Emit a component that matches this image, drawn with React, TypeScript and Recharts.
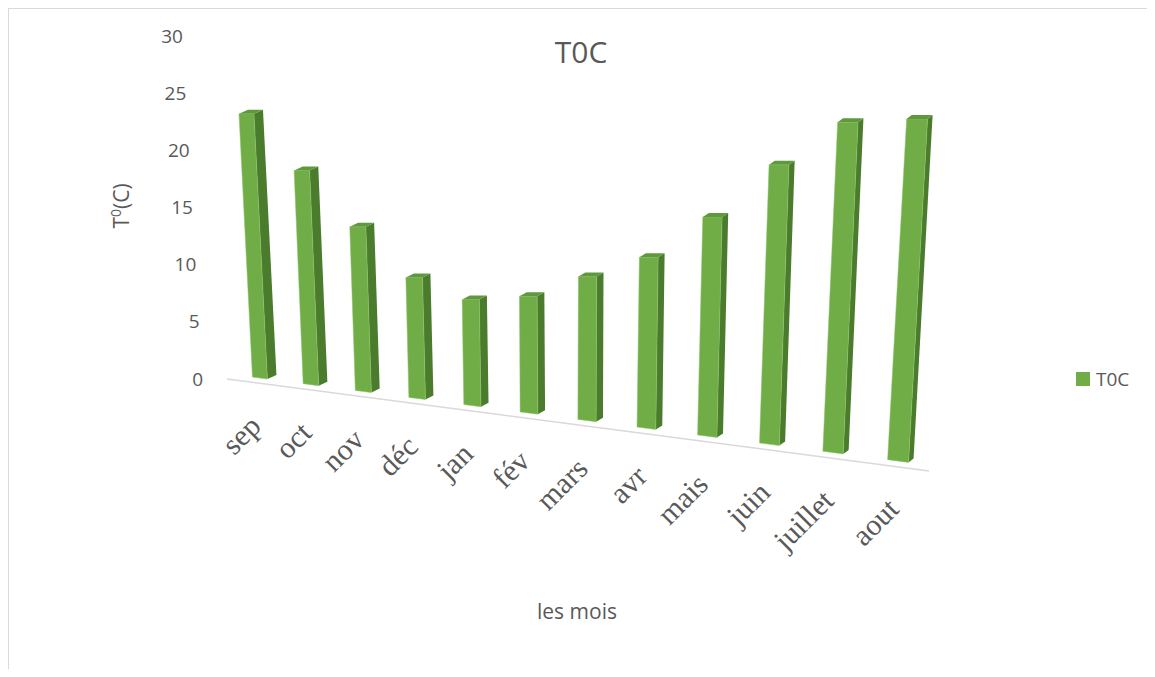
import React from 'react';
import { ComposedChart, Bar, XAxis, YAxis, ReferenceLine, Legend } from 'recharts';

const months = ['sep', 'oct', 'nov', 'déc', 'jan', 'fév', 'mars', 'avr', 'mais', 'juin', 'juillet', 'aout'];
const temperatures = [22.7, 17.9, 13.4, 9.6, 8.2, 8.8, 10.6, 12.3, 15.4, 19.2, 22.2, 22.5];
const yTicks = [0, 5, 10, 15, 20, 25, 30];
const seriesName = 'T0C';

const data = months.map((m, i) => ({ month: m, t: temperatures[i] }));

// flat chart layout; the 3D look is a projection of it
const CHART_W = 1139;
const CHART_H = 661;
const PLOT_TOP = 28;
const PLOT_H = 343;
const PLOT_LEFT = 222.5;
const BAND = 58;
const PLOT_BOTTOM = PLOT_TOP + PLOT_H;
const FIRST_CENTER = PLOT_LEFT + BAND / 2;

const FRONT = '#70AD47';
const SIDE = '#4B7B2D';
const TOP = '#5E9A3B';
const TEXT = '#595959';
const SANS = '"Open Sans", sans-serif';

// perspective: right side is closer, floor slopes down to the right
function project(cx: number) {
  const i = (cx - FIRST_CENTER) / BAND;
  const p = cx - 7.7 * i + 0.7 * i * i;
  const b = PLOT_BOTTOM - 1 + 0.13 * (p - FIRST_CENTER);
  const s = 1.018 + 0.0283 * i;
  return { i, p, b, s };
}

const pts = (arr: number[][]) => arr.map((q) => q.join(',')).join(' ');

const Bar3D = (props: any) => {
  const { x, width, height } = props;
  if (!height) return null;
  const { i, p, b, s } = project(x + width / 2);
  const h = height * s;
  const hw = (width * (1 + 0.036 * i)) / 2;
  const sd = 9 - 0.36 * i;
  const lean = (p - 557) * 0.000167 * h;
  const top = b - h;
  const flb = [p - hw, b - 0.13 * hw];
  const frb = [p + hw, b + 0.13 * hw];
  const flt = [p - hw + lean, top];
  const frt = [p + hw + lean, top];
  const back = (q: number[]) => [q[0] + sd, q[1] - 4];
  return (
    <g>
      <polygon points={pts([frb, back(frb), back(frt), frt])} fill={SIDE} />
      <polygon points={pts([flb, frb, frt, flt])} fill={FRONT} stroke="#8cc466" strokeWidth={0.5} />
      <polygon points={pts([flt, frt, back(frt), back(flt)])} fill={TOP} />
    </g>
  );
};

const MonthTick = (props: any) => {
  const { x, payload } = props;
  const { p, b } = project(x);
  const tx = p + 3;
  const ty = b + 50;
  return (
    <text
      x={tx}
      y={ty}
      textAnchor="end"
      transform={`rotate(-45 ${tx} ${ty})`}
      fill={TEXT}
      fontSize={30}
      fontFamily='"Liberation Serif", serif'
    >
      {payload.value}
    </text>
  );
};

const TempTick = (props: any) => {
  const { x, y, payload } = props;
  return (
    <text
      x={x - 19.5 - payload.value * 0.667}
      y={y}
      dy="0.35em"
      textAnchor="end"
      fill={TEXT}
      fontSize={19}
      fontFamily={SANS}
    >
      {payload.value}
    </text>
  );
};

const LegendContent = (props: any) => {
  const { payload } = props;
  return (
    <div style={{ display: 'flex', alignItems: 'center', fontFamily: SANS, fontSize: 19, lineHeight: '14px', color: TEXT }}>
      {(payload || []).map((e: any) => (
        <span key={e.value} style={{ display: 'flex', alignItems: 'center' }}>
          <span style={{ width: 14, height: 14, background: e.color, display: 'inline-block', marginRight: 6 }} />
          {e.value}
        </span>
      ))}
    </div>
  );
};

const Baseline = (props: any) => {
  const { x1, y1, x2 } = props;
  return (
    <line
      x1={x1 - 3.5}
      y1={y1}
      x2={x2 + 2.5}
      y2={y1 + 0.131 * (x2 - x1 + 6)}
      stroke="#d9d9d9"
      strokeWidth={1.5}
    />
  );
};

export default function App() {
  return (
    <div style={{ position: 'relative', width: CHART_W, height: CHART_H }}>
      <div
        style={{
          position: 'absolute',
          left: 0,
          top: 0,
          width: CHART_W,
          height: CHART_H,
          borderTop: '1px solid #d9d9d9',
          borderLeft: '1px solid #d9d9d9',
          boxSizing: 'border-box',
        }}
      />
      <ComposedChart
        width={CHART_W}
        height={CHART_H}
        data={data}
        margin={{ top: PLOT_TOP, right: CHART_W - PLOT_LEFT - months.length * BAND, bottom: 0, left: 0 }}
      >
        <XAxis
          dataKey="month"
          height={CHART_H - PLOT_BOTTOM}
          axisLine={false}
          tickLine={false}
          interval={0}
          tick={MonthTick}
        />
        <YAxis
          width={PLOT_LEFT}
          domain={[0, 30]}
          ticks={yTicks}
          interval={0}
          axisLine={false}
          tickLine={false}
          tick={TempTick}
        />
        <ReferenceLine y={0} shape={Baseline} />
        <Bar dataKey="t" name={seriesName} fill={FRONT} barSize={15} shape={Bar3D} isAnimationActive={false} />
        <Legend
          layout="horizontal"
          align="center"
          verticalAlign="middle"
          wrapperStyle={{ left: 1068, top: 364, width: 'auto', height: 'auto' }}
          content={LegendContent}
        />
      </ComposedChart>
      <svg
        width={CHART_W}
        height={CHART_H}
        style={{ position: 'absolute', left: 0, top: 0, pointerEvents: 'none' }}
      >
        <text x={573} y={55} textAnchor="middle" fill={TEXT} fontSize={30} fontFamily={SANS}>
          {seriesName}
        </text>
        <text
          x={121}
          y={198}
          textAnchor="middle"
          transform="rotate(-90 121 198)"
          fill={TEXT}
          fontSize={21}
          fontFamily={SANS}
        >
          <tspan>T</tspan>
          <tspan dy={-8} fontSize={14}>0</tspan>
          <tspan dy={8}>(C)</tspan>
        </text>
        <text x={569} y={611} textAnchor="middle" fill={TEXT} fontSize={21} fontFamily={SANS}>
          les mois
        </text>
      </svg>
    </div>
  );
}
